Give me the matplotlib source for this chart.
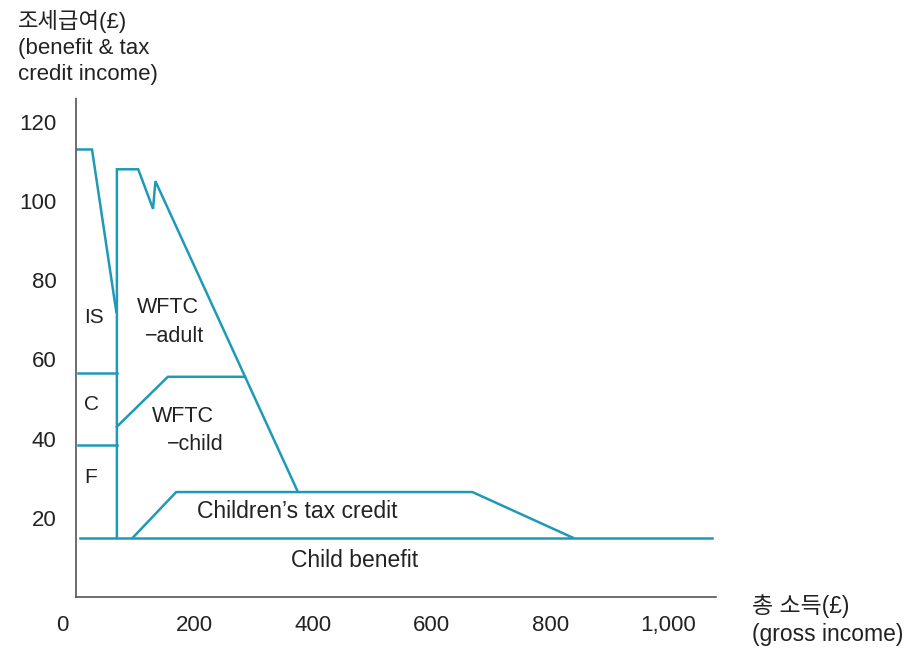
import matplotlib
matplotlib.use("Agg")
import matplotlib.pyplot as plt
import matplotlib.transforms as mtransforms

plt.rcParams['font.family'] = ['Liberation Sans', 'Noto Sans CJK KR', 'DejaVu Sans']

# ---- data ----
is_x = [0, 27, 68]
is_y = [113, 113, 72]

adult_x = [69, 69, 105, 130, 134, 373]
adult_y = [15, 108, 108, 98, 105, 27]

child_x = [69, 155, 285]
child_y = [43, 55.6, 55.6]

c_x = [3, 69]
c_y = [56.6, 56.6]
f_x = [3, 69]
f_y = [38.4, 38.4]

ctc_x = [96, 169, 669, 838]
ctc_y = [15, 26.5, 26.5, 15]

cb_x = [7, 1073]
cb_y = [15, 15]

xticks = [0, 200, 400, 600, 800, 1000]
xtick_labels = ['0', '200', '400', '600', '800', '1,000']
yticks = [20, 40, 60, 80, 100, 120]
ytick_labels = ['20', '40', '60', '80', '100', '120']

labels = [
    ('IS', 30, 70.7, 15),
    ('C', 27, 48.5, 15),
    ('F', 24, 30.3, 15),
    ('WFTC', 155, 73, 15.5),
    ('\u2212adult', 167, 65.9, 15.5),
    ('WFTC', 180, 45.7, 15.5),
    ('\u2212child', 201, 38.4, 15.5),
    ("Children\u2019s tax credit", 374, 21.7, 16.5),
    ('Child benefit', 470, 9.3, 16.5),
]

line_color = '#1E9AB6'
text_color = '#222222'

fig = plt.figure(figsize=(9.12, 6.48), dpi=100)
ax = fig.add_axes([76 / 912, 1 - 597 / 648, 640 / 912, 499 / 648])

lw = 1.8
for xs, ys in [(is_x, is_y), (adult_x, adult_y), (child_x, child_y),
               (c_x, c_y), (f_x, f_y), (ctc_x, ctc_y), (cb_x, cb_y)]:
    ax.plot(xs, ys, color=line_color, lw=lw, solid_joinstyle='miter')

for txt, x, y, fs in labels:
    ax.text(x, y, txt, ha='center', va='center', fontsize=fs, color=text_color)

ax.set_xlim(0, 1080)
ax.set_ylim(0, 126)

ax.set_xticks(xticks)
ax.set_xticklabels(xtick_labels)
ax.set_yticks(yticks)
ax.set_yticklabels(ytick_labels)
ax.tick_params(axis='both', length=0, labelsize=16, colors=text_color)
ax.tick_params(axis='y', pad=14)
ax.tick_params(axis='x', pad=13)

# shift the "0" label slightly left as in the reference
lbl0 = ax.get_xticklabels()[0]
lbl0.set_transform(lbl0.get_transform() + mtransforms.ScaledTranslation(-14 / 100, 0, fig.dpi_scale_trans))

for s in ['top', 'right']:
    ax.spines[s].set_visible(False)
for s in ['left', 'bottom']:
    ax.spines[s].set_color('#555555')
    ax.spines[s].set_linewidth(1.2)
    ax.spines[s].set_linestyle((0, (1, 1)))

fig.text(18 / 912, 1 - 10 / 648, '조세급여(£)\n(benefit & tax\ncredit income)',
         ha='left', va='top', fontsize=16, color=text_color, linespacing=1.3)
fig.text(752 / 912, 1 - 594 / 648, '총 소득(£)\n(gross income)',
         ha='left', va='top', fontsize=16.5, color=text_color, linespacing=1.3)

fig.savefig('out.png', dpi=100)
